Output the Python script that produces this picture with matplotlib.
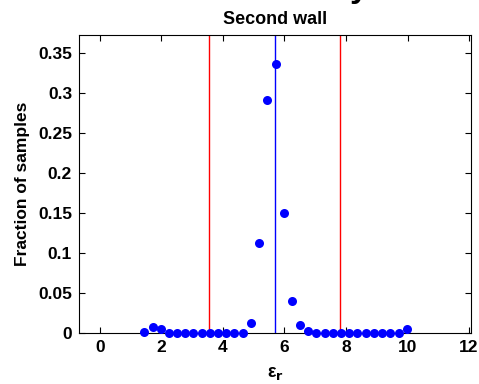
import numpy as np
import matplotlib
matplotlib.use("Agg")
import matplotlib.pyplot as plt

# histogram of relative permittivity estimates, second wall
eps_r = [1.44, 1.71, 1.97, 2.24, 2.51, 2.77, 3.04, 3.31, 3.57, 3.84, 4.11,
         4.37, 4.64, 4.91, 5.17, 5.44, 5.71, 5.97, 6.24, 6.51, 6.77, 7.04,
         7.31, 7.57, 7.84, 8.11, 8.37, 8.64, 8.91, 9.17, 9.44, 9.71, 9.97]
fraction = [0.002, 0.008, 0.006, 0.0, 0.0, 0.0, 0.0, 0.0, 0.0, 0.0, 0.0,
            0.0, 0.0, 0.0125, 0.113, 0.292, 0.337, 0.150, 0.040, 0.0105, 0.003, 0.001,
            0.0, 0.001, 0.0, 0.001, 0.0, 0.0, 0.001, 0.0, 0.0, 0.0, 0.006]
bound_lines = [3.55, 7.80]   # red
mean_line = 5.69             # blue
xticks = [0, 2, 4, 6, 8, 10, 12]
yticks = [0, 0.05, 0.1, 0.15, 0.2, 0.25, 0.3, 0.35]

plt.rcParams['font.family'] = ['Liberation Sans', 'DejaVu Sans']
plt.rcParams['font.weight'] = 'bold'

fig = plt.figure(figsize=(4.79, 3.84), dpi=100)
ax = fig.add_axes([0.165, 0.132, 0.818, 0.777])

for b in bound_lines:
    ax.axvline(b, color='#ff0000', linewidth=1.0)
ax.axvline(mean_line, color='#0000ff', linewidth=1.0)

ax.plot(eps_r, fraction, 'o', color='#0000ff', markersize=6.5,
        markeredgewidth=0, clip_on=False, zorder=3)

ax.set_xlim(-0.68, 12.06)
ax.set_ylim(0, 0.373)
ax.set_xticks(xticks)
ax.set_xticklabels([str(t) for t in xticks])
ax.set_yticks(yticks)
ax.set_yticklabels(['0', '0.05', '0.1', '0.15', '0.2', '0.25', '0.3', '0.35'])
ax.tick_params(direction='in', top=True, right=True, length=4, width=0.8,
               labelsize=12.5, pad=5)
for lab in ax.get_xticklabels() + ax.get_yticklabels():
    lab.set_fontweight('bold')
for s in ax.spines.values():
    s.set_linewidth(0.8)

ax.set_ylabel('Fraction of samples', fontsize=12.5, fontweight='bold', labelpad=6)
ax.set_xlabel('ε$_\\mathbf{r}$', fontsize=13, fontweight='bold', labelpad=7)
ax.set_title('Second wall', fontsize=13, fontweight='bold', pad=8)

# descender of a cropped main title above the figure
fig.text(0.731, 1 + 3 / 384, 'y', fontsize=24, fontweight='bold',
         ha='left', va='baseline')

fig.savefig('out.png', dpi=100)
